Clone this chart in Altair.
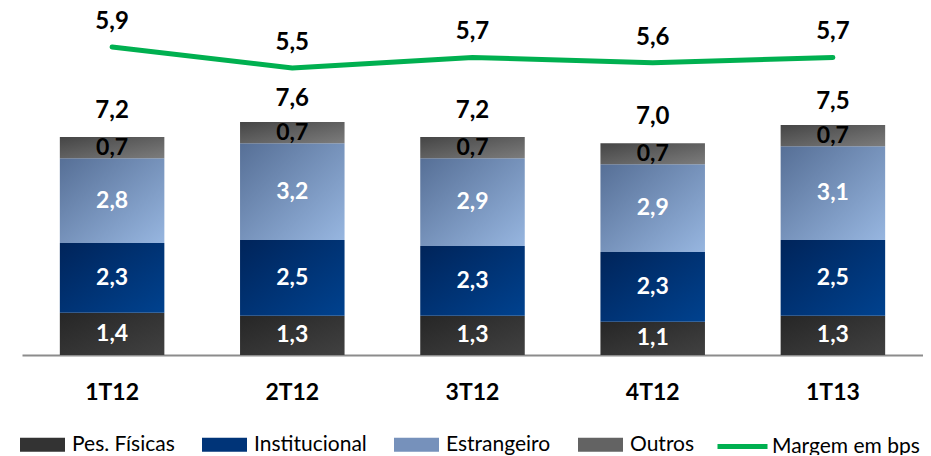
import altair as alt
import pandas as pd

quarters = ["1T12", "2T12", "3T12", "4T12", "1T13"]
series = ["Pes. Físicas", "Institucional", "Estrangeiro", "Outros"]
pes_fisicas = [1.4, 1.3, 1.3, 1.1, 1.3]
institucional = [2.3, 2.5, 2.3, 2.3, 2.5]
estrangeiro = [2.8, 3.2, 2.9, 2.9, 3.1]
outros = [0.7, 0.7, 0.7, 0.7, 0.7]
totais = [7.2, 7.6, 7.2, 7.0, 7.5]
margem = [5.9, 5.5, 5.7, 5.6, 5.7]

values_by_series = [pes_fisicas, institucional, estrangeiro, outros]
rows = []
for si, (name, vals) in enumerate(zip(series, values_by_series)):
    for q, v in zip(quarters, vals):
        rows.append({"quarter": q, "serie": name, "valor": v, "ordem": si})
df = pd.DataFrame(rows)
df_tot = pd.DataFrame({"quarter": quarters, "total": totais})
df_line = pd.DataFrame({"quarter": quarters, "margem": margem, "serie": "Margem em bps"})

FONT = "Lato"
BAR_DOMAIN = [0, 11.2]
LINE_DOMAIN = [0.033, 6.49]


def grad(c1, c2):
    return alt.LinearGradient(
        gradient="linear",
        stops=[alt.GradientStop(color=c1, offset=0), alt.GradientStop(color=c2, offset=1)],
        x1=0, y1=0, x2=1, y2=1,
    )


fills = {
    "Pes. Físicas": grad("#262626", "#414141"),
    "Institucional": grad("#00245a", "#00428f"),
    "Estrangeiro": grad("#566f96", "#97b6e0"),
    "Outros": grad("#454545", "#7c7c7c"),
}
legend_colors = ["#333333", "#003478", "#7691bb", "#636363"]

xenc = alt.X("quarter:N", sort=quarters, title=None,
             scale=alt.Scale(paddingInner=0.42, paddingOuter=0.21))

base = alt.Chart(df).transform_stack(
    stack="valor", groupby=["quarter"], as_=["y0", "y1"], sort=[alt.SortField("ordem")]
)

bar_layers = []
for name in series:
    bar_layers.append(
        base.transform_filter(alt.datum.serie == name)
        .mark_bar(fill=fills[name])
        .encode(
            x=xenc,
            y=alt.Y("y0:Q", scale=alt.Scale(domain=BAR_DOMAIN), axis=None),
            y2="y1:Q",
        )
    )

legend_layer = (
    base.transform_filter("datum.valor < 0")
    .mark_bar()
    .encode(
        x=xenc,
        y=alt.Y("y0:Q", scale=alt.Scale(domain=BAR_DOMAIN), axis=None),
        y2="y1:Q",
        fill=alt.Fill(
            "serie:N",
            scale=alt.Scale(domain=series, range=legend_colors),
            legend=alt.Legend(
                title=None, orient="none", direction="horizontal", columns=4,
                legendX=-2, legendY=406,
                symbolType="M-1,-0.31H1V0.31H-1Z", symbolSize=2025,
                symbolStrokeWidth=0, symbolOpacity=1,
                labelFont=FONT, labelFontSize=21, labelColor="#000000",
                labelOffset=7, columnPadding=27,
            ),
        ),
    )
)

seg_labels = (
    base.transform_calculate(
        mid="(datum.y0 + datum.y1) / 2",
        lbl="replace(format(datum.valor, '.1f'), '.', ',')",
    )
    .mark_text(font=FONT, fontWeight="bold", fontSize=23, baseline="middle")
    .encode(
        x=xenc,
        y=alt.Y("mid:Q", scale=alt.Scale(domain=BAR_DOMAIN), axis=None),
        text="lbl:N",
        color=alt.condition(alt.datum.serie == "Outros", alt.value("#000000"), alt.value("#ffffff")),
    )
)

tot_labels = (
    alt.Chart(df_tot)
    .transform_calculate(lbl="replace(format(datum.total, '.1f'), '.', ',')")
    .mark_text(font=FONT, fontWeight="bold", fontSize=24, baseline="middle", dy=-26, color="#000000")
    .encode(
        x=xenc,
        y=alt.Y("total:Q", scale=alt.Scale(domain=BAR_DOMAIN), axis=None),
        text="lbl:N",
    )
)

bars_group = alt.layer(*bar_layers, legend_layer, seg_labels, tot_labels)

line = (
    alt.Chart(df_line)
    .mark_line(strokeWidth=5, strokeCap="round", strokeJoin="round")
    .encode(
        x=xenc,
        y=alt.Y("margem:Q", scale=alt.Scale(domain=LINE_DOMAIN), axis=None),
        stroke=alt.Stroke(
            "serie:N",
            scale=alt.Scale(domain=["Margem em bps"], range=["#00b050"]),
            legend=alt.Legend(
                title=None, orient="none", direction="horizontal",
                legendX=693, legendY=403,
                symbolType="stroke", symbolSize=2500, symbolStrokeWidth=5,
                labelFont=FONT, labelFontSize=21, labelColor="#000000",
                labelOffset=2,
            ),
        ),
    )
)

line_labels = (
    alt.Chart(df_line)
    .transform_calculate(lbl="replace(format(datum.margem, '.1f'), '.', ',')")
    .mark_text(font=FONT, fontWeight="bold", fontSize=24, baseline="middle", dy=-25, color="#000000")
    .encode(
        x=xenc,
        y=alt.Y("margem:Q", scale=alt.Scale(domain=LINE_DOMAIN), axis=None),
        text="lbl:N",
    )
)

line_group = alt.layer(line, line_labels)

chart = (
    alt.layer(bars_group, line_group)
    .resolve_scale(y="independent")
    .properties(
        width=901,
        height=339,
        autosize=alt.AutoSizeParams(type="none"),
        padding={"left": 14, "top": 8, "right": 0, "bottom": 100},
    )
    .configure_view(stroke=None)
    .configure_axisX(
        domainColor="#8c8c8c", domainWidth=2, ticks=False, grid=False,
        labelFont=FONT, labelFontWeight="bold", labelFontSize=23, labelColor="#000000",
        labelPadding=26, labelAngle=0,
    )
)

chart.save("out.html", embed_options={"renderer": "svg", "actions": False})
